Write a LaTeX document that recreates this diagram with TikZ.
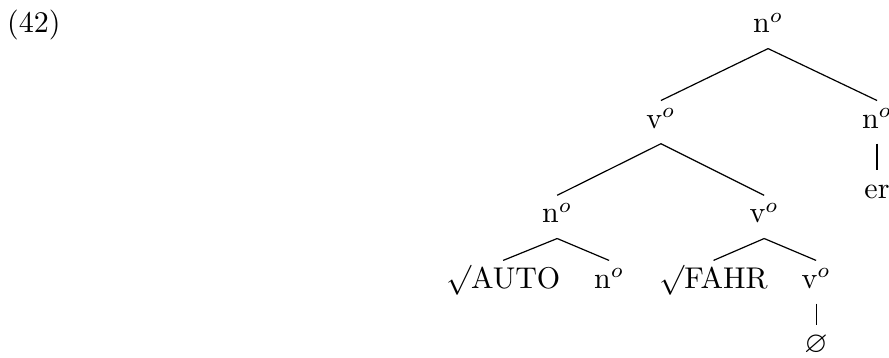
\documentclass[tikz,border=0pt]{standalone}
\usepackage{amssymb}
\usepackage{tikz}

\begin{document}
\begin{tikzpicture}[x=1pt,y=1pt,
lbl/.style={anchor=base,inner sep=2pt,text height=7pt,text depth=3pt},
br/.style={line width=0.4pt}]
\useasboundingbox (0,0) rectangle (296.3,-119.3);
\node[lbl] (ex) at (11.3,-11) {(42)};
\node[lbl] (root) at (256,-11) {n$^o$};
\node[lbl] (v2) at (220.3,-42.7) {v$^o$};
\node[lbl] (n2) at (292.3,-42.7) {n$^o$};
\node[lbl] (er) at (292.3,-66) {er};
\node[lbl] (n3) at (185.7,-74.3) {n$^o$};
\node[lbl] (v3) at (254.7,-74.3) {v$^o$};
\node[lbl] (auto) at (167.7,-96) {$\surd$AUTO};
\node[lbl] (n4) at (203,-96) {n$^o$};
\node[lbl] (fahr) at (237.8,-96) {$\surd$FAHR};
\node[lbl] (v4) at (272,-96) {v$^o$};
\node[lbl] (nul) at (272,-117.6) {$\varnothing$};
\draw[br] (root.south) -- (v2.north); \draw[br] (root.south) -- (n2.north);
\draw[br] (n2.south) -- (er.north);
\draw[br] (v2.south) -- (n3.north); \draw[br] (v2.south) -- (v3.north);
\draw[br] (n3.south) -- (auto.north); \draw[br] (n3.south) -- (n4.north);
\draw[br] (v3.south) -- (fahr.north); \draw[br] (v3.south) -- (v4.north);
\draw[br] (v4.south) -- (nul.north);
\end{tikzpicture}
\end{document}
